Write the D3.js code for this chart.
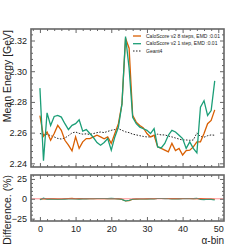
<!DOCTYPE html>
<html><head><meta charset="utf-8">
<script src="https://cdn.jsdelivr.net/npm/d3@7"></script>
<style>body{margin:0;background:#fff}svg{display:block}text{font-family:"Liberation Sans",Arial,sans-serif}</style>
</head><body><svg id="c" width="249" height="249"></svg>
<script>
const bins = d3.range(50);
const orange = [2.271,2.2576,2.2604,2.255,2.2594,2.2647,2.2615,2.255,2.2518,2.2481,2.2572,2.2497,2.254,2.2561,2.2561,2.2572,2.2583,2.2572,2.256,2.2572,2.253,2.2594,2.2658,2.2787,2.3215,2.315,2.2712,2.2668,2.2647,2.263,2.2594,2.2572,2.2583,2.2507,2.2497,2.2486,2.2475,2.253,2.2483,2.2497,2.2454,2.2483,2.2486,2.2507,2.254,2.254,2.2594,2.2658,2.2679,2.2748];
const green = [2.289,2.2417,2.2729,2.2647,2.2705,2.2712,2.2701,2.2658,2.262,2.2647,2.2658,2.2684,2.261,2.262,2.2594,2.2568,2.2535,2.2518,2.2536,2.2561,2.2486,2.2572,2.2636,2.2787,2.3226,2.302,2.270,2.2658,2.2636,2.2625,2.2615,2.2594,2.2626,2.2507,2.25,2.2529,2.2583,2.2615,2.2604,2.2583,2.2561,2.2497,2.254,2.2497,2.2468,2.2765,2.2808,2.2712,2.2744,2.2937];
const geant = [2.2594,2.2588,2.259,2.258,2.2572,2.2562,2.2558,2.2565,2.258,2.2598,2.2604,2.2595,2.259,2.2592,2.2588,2.2594,2.26,2.2604,2.26,2.2608,2.2615,2.262,2.2626,2.2615,2.2605,2.26,2.259,2.2585,2.258,2.2575,2.2572,2.2572,2.2578,2.259,2.2585,2.2585,2.2578,2.2572,2.2565,2.2558,2.2552,2.2552,2.255,2.2552,2.2598,2.2575,2.257,2.258,2.2585,2.2583];
const seriesNames = ["CaloScore v2 8 steps, EMD :0.01","CaloScore v2 1 step, EMD :0.01","Geant4"];
const xTicks = [0,10,20,30,40,50];
const yTicks = [2.24,2.26,2.28,2.30,2.32];
const dTicks = [-25,0,25];

const svg = d3.select("#c");
const L=31,R=224,T1=29,B1=167,T2=175,B2=221;
const cOr="#d95f02", cGr="#1b9e77", frame="#666";
const x = d3.scaleLinear().domain([-2.5,51.6]).range([L,R]);
const y = d3.scaleLinear().domain([2.2376,2.3275]).range([B1,T1]);
const yd = d3.scaleLinear().domain([-28,30]).range([B2,T2]);

function ticksPanel(yS, top, bottom, yMaj, yMin, xLabels, yFmt){
  const xMin = d3.range(-2,52,2).filter(v=>v%10!==0);
  const mk=(ax,g)=>{g.call(ax);g.select(".domain").remove();g.selectAll("line").attr("stroke",frame);};
  let g=svg.append("g").attr("transform",`translate(0,${bottom})`);
  mk(d3.axisBottom(x).tickValues(xTicks).tickSize(-4).tickPadding(5).tickFormat(xLabels?d3.format("d"):()=>""),g);
  g.selectAll("text").attr("font-size",9).attr("fill","#222");
  g=svg.append("g").attr("transform",`translate(0,${bottom})`);
  mk(d3.axisBottom(x).tickValues(xMin).tickSize(-2).tickFormat(()=>""),g);
  g=svg.append("g").attr("transform",`translate(0,${top})`);
  mk(d3.axisTop(x).tickValues(xTicks).tickSize(-4).tickFormat(()=>""),g);
  g=svg.append("g").attr("transform",`translate(0,${top})`);
  mk(d3.axisTop(x).tickValues(xMin).tickSize(-2).tickFormat(()=>""),g);
  g=svg.append("g").attr("transform",`translate(${L},0)`);
  mk(d3.axisLeft(yS).tickValues(yMaj).tickSize(-4).tickPadding(4).tickFormat(yFmt),g);
  g.selectAll("text").attr("font-size",9).attr("fill","#222");
  g=svg.append("g").attr("transform",`translate(${L},0)`);
  mk(d3.axisLeft(yS).tickValues(yMin).tickSize(-2).tickFormat(()=>""),g);
  g=svg.append("g").attr("transform",`translate(${R},0)`);
  mk(d3.axisRight(yS).tickValues(yMaj).tickSize(-4).tickFormat(()=>""),g);
  g=svg.append("g").attr("transform",`translate(${R},0)`);
  mk(d3.axisRight(yS).tickValues(yMin).tickSize(-2).tickFormat(()=>""),g);
  svg.append("rect").attr("x",L).attr("y",top).attr("width",R-L).attr("height",bottom-top)
    .attr("fill","none").attr("stroke",frame).attr("stroke-width",1.6);
}

const line = d3.line().x((d,i)=>x(bins[i])).y(d=>y(d));
svg.append("path").datum(geant).attr("d",line).attr("fill","none").attr("stroke","#222").attr("stroke-width",1).attr("stroke-dasharray","1.5,1.5");
svg.append("path").datum(orange).attr("d",line).attr("fill","none").attr("stroke",cOr).attr("stroke-width",1.3);
svg.append("path").datum(green).attr("d",line).attr("fill","none").attr("stroke",cGr).attr("stroke-width",1.3);

const yMinTop = d3.range(2.24,2.3275,0.004).map(v=>+v.toFixed(3)).filter(v=>!yTicks.some(t=>Math.abs(t-v)<1e-6));
ticksPanel(y,T1,B1,yTicks,yMinTop,false,d3.format(".2f"));

const leg = [[cOr,null],[cGr,null],["#222","1.5,1.5"]];
const legY=[36,43.7,51];
leg.forEach((l,i)=>{
  svg.append("line").attr("x1",133).attr("x2",141).attr("y1",legY[i]).attr("y2",legY[i])
    .attr("stroke",l[0]).attr("stroke-width",i<2?1.3:1).attr("stroke-dasharray",l[1]);
  svg.append("text").attr("x",146).attr("y",legY[i]).attr("dy","0.35em").attr("font-size",5).attr("fill","#222").text(seriesNames[i]);
});

const dOr = orange.map((v,i)=>100*(geant[i]-v)/geant[i]);
const dGr = green.map((v,i)=>100*(geant[i]-v)/geant[i]);
const dline = d3.line().x((d,i)=>x(bins[i])).y(d=>yd(d));
svg.append("path").datum(dOr).attr("d",dline).attr("fill","none").attr("stroke",cOr).attr("stroke-width",1.1);
svg.append("path").datum(dGr).attr("d",dline).attr("fill","none").attr("stroke",cGr).attr("stroke-width",1.1);
svg.append("line").attr("x1",L).attr("x2",R).attr("y1",yd(0)).attr("y2",yd(0)).attr("stroke","#ff5a5a").attr("stroke-opacity",0.75).attr("stroke-width",0.9);
const dMin = d3.range(-25,30,5).filter(v=>!dTicks.includes(v));
ticksPanel(yd,T2,B2,dTicks,dMin,true,d3.format("d"));

svg.append("text").attr("transform",`translate(11,${T1+1}) rotate(-90)`).attr("text-anchor","end").attr("font-size",10.5).attr("fill","#222").text("Mean Energy [GeV]");
svg.append("text").attr("transform",`translate(11,${T2}) rotate(-90)`).attr("text-anchor","end").attr("font-size",10.5).attr("fill","#222").text("Difference. (%)");
svg.append("text").attr("x",R).attr("y",244).attr("text-anchor","end").attr("font-size",10).attr("fill","#222").text("α-bin");
</script></body></html>
